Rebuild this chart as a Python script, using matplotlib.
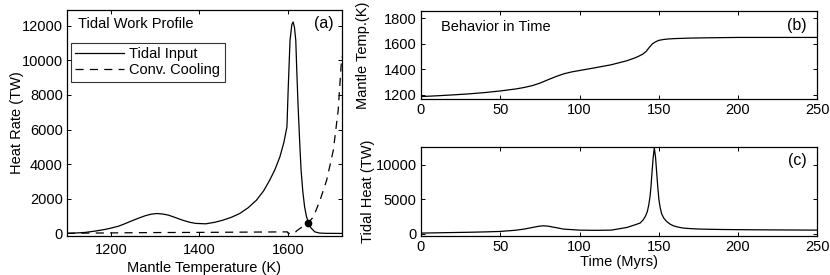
import matplotlib
matplotlib.use("Agg")
import matplotlib.pyplot as plt

plt.rcParams['font.family'] = ['Liberation Sans', 'DejaVu Sans']
plt.rcParams['font.size'] = 10.5

# Panel (a): heat rate vs mantle temperature
tidal_T = [1095, 1120, 1141, 1165, 1186, 1200, 1217, 1232, 1247, 1262, 1277,
           1290, 1304, 1317, 1330, 1345, 1361, 1377, 1391, 1414, 1436, 1453,
           1472, 1491, 1510, 1529, 1545, 1559, 1571, 1582, 1591, 1598, 1601,
           1605, 1609, 1612, 1615, 1618, 1620, 1623, 1627, 1630, 1634, 1638,
           1642, 1646, 1652, 1661, 1672, 1687, 1722]
tidal_Q = [0, 25, 58, 140, 230, 310, 420, 570, 730, 880, 1020,
           1110, 1150, 1120, 1055, 920, 770, 650, 580, 555, 650, 767,
           930, 1150, 1480, 1920, 2450, 3075, 3700, 4420, 5250, 6150, 8460,
           11150, 12050, 12210, 11900, 11150, 9600, 7500, 5200, 3650, 2400,
           1535, 1000, 670, 330, 92, 20, 5, 0]
conv_T = [1100, 1200, 1300, 1400, 1500, 1599, 1601, 1615, 1620, 1630, 1645,
          1658, 1673, 1688, 1703, 1714, 1722]
conv_Q = [10, 30, 50, 60, 75, 90, 0, 0, 150, 330, 577,
          960, 1920, 3080, 4800, 7110, 10200]
eq_T = [1645]
eq_Q = [590]

# Panel (b): mantle temperature vs time
time_b = [0, 10, 20, 30, 40, 50, 60, 65, 70, 75, 80, 85, 90, 95, 100, 110,
          120, 130, 135, 138, 140, 142, 144, 146, 148, 150, 153, 156, 160,
          170, 180, 200, 250]
temp_b = [1187, 1193, 1200, 1208, 1218, 1231, 1247, 1258, 1272, 1292, 1318,
          1343, 1365, 1380, 1391, 1413, 1436, 1468, 1490, 1507, 1520, 1540,
          1572, 1600, 1616, 1627, 1634, 1638, 1641, 1645, 1647, 1650, 1650]

# Panel (c): tidal heat vs time
time_c = [0, 10, 20, 30, 40, 50, 60, 65, 70, 74, 77, 80, 85, 90, 100, 110,
          120, 130, 135, 138.2, 140.2, 141.6, 142.8, 143.7, 144.5, 145.1,
          145.7, 146.4, 147.2, 148.0, 148.7, 149.4, 150.1, 150.9, 151.8, 153.2,
          155, 157, 159.2, 162, 165.5, 170, 176, 190, 210, 250]
heat_c = [100, 140, 180, 220, 270, 340, 520, 680, 900, 1080, 1160, 1110, 900,
          680, 530, 500, 530, 920, 1300, 1550, 2030, 2550, 3230, 4200, 5410,
          6900, 8800, 10900, 12430, 11000, 8800, 6700, 4930, 3800, 2900,
          2250, 1780, 1420, 1160, 980, 826, 750, 680, 620, 580, 530]

fig = plt.figure(figsize=(8.3, 2.75), dpi=100)
axa = fig.add_axes([0.0807, 0.1436, 0.331, 0.82])
axb = fig.add_axes([0.5072, 0.64, 0.4775, 0.32])
axc = fig.add_axes([0.5072, 0.1436, 0.4775, 0.3236])

lw = 0.9
axa.plot(tidal_T, tidal_Q, color='black', lw=lw, label='Tidal Input')
axa.plot(conv_T, conv_Q, color='black', lw=lw, ls=(0, (6.5, 5)), label='Conv. Cooling')
axa.plot(eq_T, eq_Q, 'o', color='black', ms=4.5)
axa.set_xlim(1100, 1722)
axa.set_ylim(-120, 12900)
axa.set_xticks([1200, 1400, 1600])
axa.set_yticks(range(0, 12001, 2000))
axa.set_xlabel('Mantle Temperature (K)', labelpad=2.5)
axa.set_ylabel('Heat Rate (TW)')
axa.yaxis.set_label_coords(-0.156, 0.5)
axa.text(0.04, 0.94, 'Tidal Work Profile', transform=axa.transAxes, ha='left', va='center')
axa.text(0.97, 0.94, '(a)', transform=axa.transAxes, ha='right', va='center', fontsize=11.5)
leg = axa.legend(loc='upper left', bbox_to_anchor=(0.015, 0.855), frameon=True,
                 fancybox=False, edgecolor='black', handlelength=3.3,
                 borderpad=0.3, labelspacing=0.15, handletextpad=0.4,
                 borderaxespad=0)
leg.get_frame().set_linewidth(0.8)

axb.plot(time_b, temp_b, color='black', lw=lw)
axb.set_xlim(0, 250)
axb.set_ylim(1168, 1857)
axb.set_yticks([1200, 1400, 1600, 1800])
axb.set_xticks([0, 50, 100, 150, 200, 250])
axb.set_ylabel('Mantle Temp.(K)')
axb.yaxis.set_label_coords(-0.129, 0.5)
axb.text(0.05, 0.82, 'Behavior in Time', transform=axb.transAxes, ha='left', va='center')
axb.text(0.973, 0.83, '(b)', transform=axb.transAxes, ha='right', va='center', fontsize=11.5)

axc.plot(time_c, heat_c, color='black', lw=lw)
axc.set_xlim(0, 250)
axc.set_ylim(-250, 12650)
axc.set_yticks([0, 5000, 10000])
axc.set_xticks([0, 50, 100, 150, 200, 250])
axc.set_xlabel('Time (Myrs)', labelpad=1)
axc.set_ylabel('Tidal Heat (TW)')
axc.yaxis.set_label_coords(-0.116, 0.5)
axc.text(0.973, 0.84, '(c)', transform=axc.transAxes, ha='right', va='center', fontsize=11.5)

for ax in (axa, axb, axc):
    ax.tick_params(direction='in', top=True, right=True, length=3, width=0.7, pad=3)
    for s in ax.spines.values():
        s.set_linewidth(0.9)
axa.tick_params(axis='x', pad=5.5)

fig.savefig('out.png', dpi=100)
